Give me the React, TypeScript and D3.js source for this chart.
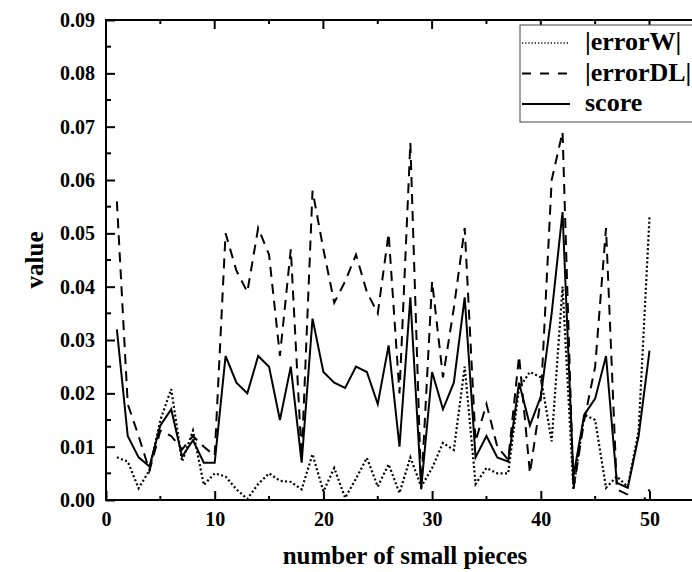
import * as d3 from "d3";
import { useRef, useEffect } from "react";

const pieces = [
  1, 2, 3, 4, 5, 6, 7, 8, 9, 10, 11, 12, 13, 14, 15, 16, 17, 18, 19, 20, 21,
  22, 23, 24, 25, 26, 27, 28, 29, 30, 31, 32, 33, 34, 35, 36, 37, 38, 39, 40,
  41, 42, 43, 44, 45, 46, 47, 48, 49, 50,
];

const errorW = [
  0.008, 0.0072, 0.0022, 0.0056, 0.015, 0.0208, 0.0072, 0.013, 0.0028, 0.005,
  0.0044, 0.002, 0.0002, 0.003, 0.005, 0.0036, 0.0034, 0.002, 0.0086, 0.0016,
  0.006, 0.0004, 0.004, 0.0079, 0.0025, 0.0067, 0.0013, 0.008, 0.0025, 0.006,
  0.0107, 0.0094, 0.025, 0.003, 0.006, 0.005, 0.005, 0.021, 0.024, 0.023,
  0.011, 0.04, 0.002, 0.016, 0.015, 0.0023, 0.0044, 0.0025, 0.013, 0.053,
];

const errorDL = [
  0.056, 0.018, 0.012, 0.0055, 0.013, 0.012, 0.0095, 0.012, 0.01, 0.0083,
  0.05, 0.043, 0.039, 0.051, 0.046, 0.027, 0.047, 0.008, 0.058, 0.047, 0.037,
  0.041, 0.046, 0.039, 0.035, 0.05, 0.02, 0.067, 0.002, 0.041, 0.023, 0.036,
  0.051, 0.011, 0.018, 0.01, 0.0075, 0.027, 0.005, 0.019, 0.06, 0.069, 0.002,
  0.015, 0.025, 0.051, 0.002, 0.001, -0.002, 0.002,
];

const score = [
  0.032, 0.012, 0.008, 0.0063, 0.014, 0.017, 0.0081, 0.0112, 0.007, 0.007,
  0.027, 0.022, 0.02, 0.027, 0.025, 0.015, 0.025, 0.007, 0.034, 0.024, 0.022,
  0.021, 0.025, 0.024, 0.018, 0.029, 0.01, 0.038, 0.0023, 0.024, 0.017, 0.022,
  0.038, 0.008, 0.012, 0.008, 0.0072, 0.022, 0.014, 0.0194, 0.035, 0.054,
  0.0044, 0.016, 0.019, 0.027, 0.0032, 0.0023, 0.012, 0.028,
];

const seriesNames = ["|errorW|", "|errorDL|", "score"];
const xTicks = [0, 10, 20, 30, 40, 50];
const xMinorTicks = [5, 15, 25, 35, 45];
const yTicks = [0, 0.01, 0.02, 0.03, 0.04, 0.05, 0.06, 0.07, 0.08, 0.09];
const yMinorTicks = [0.005, 0.015, 0.025, 0.035, 0.045, 0.055, 0.065, 0.075, 0.085];

const FONT = "'Liberation Serif', 'Times New Roman', serif";

export default function App() {
  const svgRef = useRef<SVGSVGElement>(null);
  const width = 692;
  const height = 572;
  const marginLeft = 106;
  const marginTop = 20;
  const marginBottom = 72;
  const xMax = 54;
  const unit = 10.87;

  useEffect(() => {
    const svg = d3.select(svgRef.current);
    svg.selectAll("*").remove();

    const plotRight = marginLeft + xMax * unit;
    const x = d3.scaleLinear().domain([0, xMax]).range([marginLeft, plotRight]);
    const y = d3
      .scaleLinear()
      .domain([0, 0.09])
      .range([height - marginBottom, marginTop]);

    svg
      .append("defs")
      .append("clipPath")
      .attr("id", "plot-clip")
      .append("rect")
      .attr("x", marginLeft)
      .attr("y", marginTop)
      .attr("width", plotRight - marginLeft)
      .attr("height", height - marginBottom - marginTop);

    const series = [
      { name: seriesNames[0], values: errorW, dash: "2,2.4", legendDash: "1.2,2", legendWidth: 1.3 },
      { name: seriesNames[1], values: errorDL, dash: "10,7", legendDash: "9,9", legendWidth: 2 },
      { name: seriesNames[2], values: score, dash: null, legendDash: null, legendWidth: 2 },
    ];

    const line = d3
      .line<number>()
      .x((_, i) => x(pieces[i]))
      .y((d) => y(d));

    const chart = svg.append("g").attr("clip-path", "url(#plot-clip)");
    chart
      .selectAll(".series")
      .data(series)
      .join("path")
      .attr("class", "series")
      .attr("fill", "none")
      .attr("stroke", "black")
      .attr("stroke-width", (d) => (d.dash === "2,2.4" ? 2.2 : 2))
      .attr("stroke-dasharray", (d) => d.dash)
      .attr("d", (d) => line(d.values));

    // frame (right edge falls just outside the window)
    svg
      .append("rect")
      .attr("x", marginLeft)
      .attr("y", marginTop)
      .attr("width", plotRight - marginLeft + 4)
      .attr("height", height - marginBottom - marginTop)
      .attr("fill", "none")
      .attr("stroke", "black")
      .attr("stroke-width", 2);

    // bottom axis, ticks pointing in
    const gx = svg
      .append("g")
      .attr("transform", `translate(0,${height - marginBottom})`)
      .call(d3.axisBottom(x).tickValues(xTicks).tickSize(-9).tickPadding(12));
    gx.select(".domain").remove();
    gx.selectAll("line").attr("stroke-width", 2);
    gx.selectAll("text")
      .attr("font-family", FONT)
      .attr("font-weight", "bold")
      .attr("font-size", 20)
      .attr("fill", "black");

    const gy = svg
      .append("g")
      .attr("transform", `translate(${marginLeft},0)`)
      .call(
        d3
          .axisLeft(y)
          .tickValues(yTicks)
          .tickSize(-9)
          .tickPadding(11)
          .tickFormat(d3.format(".2f"))
      );
    gy.select(".domain").remove();
    gy.selectAll("line").attr("stroke-width", 2);
    gy.selectAll("text")
      .attr("font-family", FONT)
      .attr("font-weight", "bold")
      .attr("font-size", 20)
      .attr("fill", "black");

    // top ticks (major + minor)
    svg
      .append("g")
      .selectAll("line")
      .data([...xTicks, ...xMinorTicks])
      .join("line")
      .attr("x1", (d) => x(d))
      .attr("x2", (d) => x(d))
      .attr("y1", marginTop)
      .attr("y2", (d) => marginTop + (xTicks.includes(d) ? 9 : 4))
      .attr("stroke", "black")
      .attr("stroke-width", 2);

    // minor ticks bottom / left
    svg
      .append("g")
      .selectAll("line")
      .data(xMinorTicks)
      .join("line")
      .attr("x1", (d) => x(d))
      .attr("x2", (d) => x(d))
      .attr("y1", height - marginBottom)
      .attr("y2", height - marginBottom - 4)
      .attr("stroke", "black")
      .attr("stroke-width", 2);

    svg
      .append("g")
      .selectAll("line")
      .data(yMinorTicks)
      .join("line")
      .attr("x1", marginLeft)
      .attr("x2", marginLeft + 5)
      .attr("y1", (d) => y(d))
      .attr("y2", (d) => y(d))
      .attr("stroke", "black")
      .attr("stroke-width", 2);

    // axis labels
    svg
      .append("text")
      .attr("x", 405)
      .attr("y", 564)
      .attr("text-anchor", "middle")
      .attr("font-family", FONT)
      .attr("font-weight", "bold")
      .attr("font-size", 25)
      .text("number of small pieces");

    svg
      .append("text")
      .attr("transform", `translate(43,${(marginTop + height - marginBottom) / 2}) rotate(-90)`)
      .attr("text-anchor", "middle")
      .attr("font-family", FONT)
      .attr("font-weight", "bold")
      .attr("font-size", 25)
      .text("value");

    // legend
    const legend = svg.append("g").attr("transform", "translate(520,25)");
    legend
      .append("rect")
      .attr("width", 180)
      .attr("height", 97)
      .attr("fill", "white")
      .attr("stroke", "#444")
      .attr("stroke-width", 1);

    const rows = legend
      .selectAll(".row")
      .data(series)
      .join("g")
      .attr("class", "row")
      .attr("transform", (_, i) => `translate(0,${18 + i * 30.5})`);
    rows
      .append("line")
      .attr("x1", 2)
      .attr("x2", 50)
      .attr("stroke", "black")
      .attr("stroke-dasharray", (d) => d.legendDash)
      .attr("stroke-width", (d) => d.legendWidth);
    rows
      .append("text")
      .attr("x", 65)
      .attr("y", 7)
      .attr("font-family", FONT)
      .attr("font-weight", "bold")
      .attr("font-size", 26)
      .text((d) => d.name);
  }, []);

  return (
    <svg
      ref={svgRef}
      width={width}
      height={height}
      style={{ position: "absolute", left: 0, top: 0, background: "white" }}
    />
  );
}
